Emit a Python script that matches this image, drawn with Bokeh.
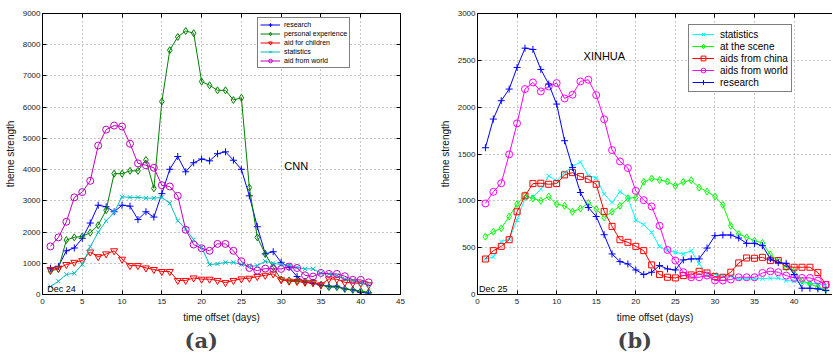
from bokeh.plotting import figure
from bokeh.layouts import row
from bokeh.models import LinearAxis, Title, Label, FixedTicker, CustomJSTickFormatter, Range1d
from bokeh.embed import file_html
from bokeh.resources import INLINE

# ---------------- data ----------------
cnn_days = list(range(1, 42))
cnn_research = [840, 900, 1400, 1490, 1800, 2290, 2860, 2810, 2650, 2860, 2830, 2400, 2650, 2480, 3230,
                4010, 4420, 3930, 4220, 4340, 4280, 4510, 4570, 4300, 4010, 3160, 2170, 1300, 1370, 1030,
                870, 575, 390, 360, 300, 265, 265, 180, 150, 65, 50]
cnn_personal = [750, 820, 1745, 1830, 1860, 1980, 2220, 2700, 3870, 3870, 3960, 3960, 4310, 3400, 6180,
                7825, 8250, 8440, 8370, 6820, 6700, 6540, 6540, 6230, 6300, 3425, 1830, 1300, 870, 480,
                450, 450, 415, 390, 310, 235, 235, 180, 150, 110, 75]
cnn_children = [800, 840, 960, 1030, 1085, 1360, 1210, 1300, 1400, 1130, 925, 925, 850, 800, 735,
                735, 450, 450, 530, 490, 490, 450, 380, 450, 500, 520, 575, 615, 660, 470,
                425, 415, 390, 380, 310, 500, 490, 390, 370, 360, 310]
cnn_statistics = [255, 425, 640, 680, 960, 1530, 1990, 2360, 2630, 3130, 3110, 3110, 3085, 3085, 3110,
                  2925, 2360, 2100, 1755, 1510, 960, 980, 1030, 1030, 960, 900, 925, 1065, 1000, 960,
                  925, 870, 820, 820, 680, 660, 605, 500, 450, 360, 310]
cnn_world = [1540, 1830, 2330, 3110, 3280, 3640, 4770, 5280, 5410, 5380, 4830, 4200, 4140, 4060, 3500,
             3460, 3160, 2075, 1600, 1480, 1400, 1620, 1620, 1400, 1065, 850, 765, 830, 820, 820,
             895, 850, 615, 575, 690, 660, 660, 585, 470, 470, 390]

xh_days = list(range(1, 45))
xh_statistics = [380, 400, 564, 592, 794, 1028, 1043, 1124, 1266, 1213, 1301, 1368, 1414, 1270, 1245,
                 1071, 982, 1099, 1035, 794, 745, 663, 511, 468, 450, 433, 468, 326, 220, 220,
                 195, 195, 167, 167, 167, 170, 174, 174, 149, 142, 124, 121, 113, 96]
xh_scene = [617, 670, 706, 833, 965, 1060, 1025, 1000, 1046, 965, 947, 883, 918, 975, 911,
            823, 883, 947, 1028, 1035, 1202, 1238, 1223, 1206, 1160, 1202, 1220, 1142, 1099, 1046,
            957, 734, 645, 610, 574, 550, 426, 362, 291, 255, 149, 113, 78, 53]
xh_china = [379, 468, 514, 585, 883, 1053, 1184, 1188, 1177, 1184, 1277, 1301, 1259, 1230, 1177,
            887, 727, 585, 557, 514, 468, 316, 213, 184, 177, 202, 209, 248, 230, 191,
            184, 238, 337, 390, 387, 397, 362, 362, 298, 291, 291, 291, 234, 106]
xh_world = [972, 1096, 1188, 1496, 1827, 2193, 2264, 2168, 2221, 2257, 2093, 2133, 2275, 2293, 2129,
            1870, 1542, 1421, 1350, 1106, 1007, 940, 734, 475, 362, 238, 184, 184, 202, 149,
            149, 160, 184, 184, 184, 230, 248, 238, 202, 177, 177, 177, 149, 103]
xh_research = [1567, 1873, 2069, 2193, 2424, 2630, 2616, 2403, 2246, 2033, 1642, 1357, 1089, 929, 833,
               638, 433, 351, 326, 262, 213, 238, 309, 273, 262, 369, 380, 380, 496, 628,
               635, 635, 603, 546, 546, 521, 380, 340, 333, 213, 67, 67, 60, 43]

x_ticks = [0, 5, 10, 15, 20, 25, 30, 35, 40, 45]
cnn_y_ticks = [0, 1000, 2000, 3000, 4000, 5000, 6000, 7000, 8000, 9000]
xh_y_ticks = [0, 500, 1000, 1500, 2000, 2500, 3000]

SANS = "Liberation Sans"


def style(p, xt, yt, box=True):
    p.xaxis.ticker = FixedTicker(ticks=xt)
    p.yaxis.ticker = FixedTicker(ticks=yt)
    p.xaxis.axis_label = "time offset (days)"
    p.yaxis.axis_label = "theme strength"
    for ax in p.axis:
        ax.major_tick_in = 4
        ax.major_tick_out = 0
        ax.minor_tick_line_color = None
        ax.axis_line_color = "black"
        ax.major_tick_line_color = "black"
        ax.major_label_text_font = SANS
        ax.major_label_text_font_size = "8px"
        ax.major_label_text_color = "#222222"
        ax.axis_label_text_font = SANS
        ax.axis_label_text_font_size = "10px"
        ax.axis_label_text_font_style = "normal"
        ax.axis_label_text_color = "#111111"
    p.xaxis.major_label_standoff = 4
    p.xaxis.axis_label_standoff = 5
    p.yaxis.major_label_standoff = 2
    p.yaxis.axis_label_standoff = 4
    p.grid.grid_line_color = "#8a8a8a"
    p.grid.grid_line_dash = "1 3"
    p.grid.grid_line_width = 1
    p.outline_line_color = "black" if box else None
    p.outline_line_width = 1
    p.background_fill_color = "white"
    p.border_fill_color = "white"
    blank = CustomJSTickFormatter(code="return ''")
    top = LinearAxis(ticker=FixedTicker(ticks=xt), formatter=blank, major_tick_in=4, major_tick_out=0,
                     minor_tick_line_color=None, major_label_text_font_size="0px",
                     major_label_standoff=0, axis_line_color="black")
    p.add_layout(top, "above")
    if box:
        right = LinearAxis(ticker=FixedTicker(ticks=yt), formatter=blank, major_tick_in=4, major_tick_out=0,
                           minor_tick_line_color=None, major_label_text_font_size="0px",
                           major_label_standoff=0, axis_line_color="black")
        p.add_layout(right, "right")


def series(p, x, y, name, color, marker, size=7):
    p.line(x, y, line_color=color, line_width=1, legend_label=name)
    p.scatter(x, y, marker=marker, size=size, line_color=color, fill_color=None, line_width=1,
              legend_label=name)


def legend_style(p, loc, fs, gh, lh, gw, pad, stand):
    lg = p.legend[0]
    lg.location = loc
    lg.border_line_color = "black"
    lg.border_line_width = 1
    lg.background_fill_color = "white"
    lg.background_fill_alpha = 1
    lg.label_text_font = SANS
    lg.label_text_font_size = fs
    lg.label_text_color = "black"
    lg.glyph_width = gw
    lg.glyph_height = gh
    lg.label_height = lh
    lg.spacing = 0
    lg.padding = pad
    lg.margin = 0
    lg.label_standoff = stand


# ---------------- (a) CNN ----------------
p1 = figure(width=418, height=356, output_backend="svg", toolbar_location=None,
            x_range=Range1d(0, 45), y_range=Range1d(0, 9000),
            min_border_left=42, min_border_right=18, min_border_top=13, min_border_bottom=62)
style(p1, x_ticks, cnn_y_ticks, box=True)
series(p1, cnn_days, cnn_research, "research", "#0000FF", "cross")
series(p1, cnn_days, cnn_personal, "personal experience", "#008000", "diamond")
series(p1, cnn_days, cnn_children, "aid for children", "#FF0000", "inverted_triangle")
series(p1, cnn_days, cnn_statistics, "statistics", "#00BFBF", "x", 6)
series(p1, cnn_days, cnn_world, "aid from world", "#BF00BF", "circle")
legend_style(p1, (215, 226), "7px", 9, 9, 20, 2, 4)
p1.add_layout(Label(x=30.4, y=4100, text="CNN", text_font=SANS, text_font_size="11px",
                    text_baseline="middle", text_color="black"))
p1.add_layout(Label(x=0.6, y=20, text="Dec 24", text_font=SANS, text_font_size="9px",
                    text_baseline="bottom", text_color="black"))
p1.add_layout(Title(text="(a)", align="left", offset=142, text_font="DejaVu Serif",
                    text_font_size="21px", text_font_style="bold", standoff=0), "below")

# ---------------- (b) XINHUA ----------------
p2 = figure(width=414, height=356, output_backend="svg", toolbar_location=None,
            x_range=Range1d(0, 44.85), y_range=Range1d(0, 3000),
            min_border_left=59, min_border_right=0, min_border_top=13, min_border_bottom=62)
style(p2, x_ticks, xh_y_ticks, box=False)
series(p2, xh_days, xh_statistics, "statistics", "#00FFFF", "x", 6)
series(p2, xh_days, xh_scene, "at the scene", "#00FF00", "diamond")
series(p2, xh_days, xh_china, "aids from china", "#FF0000", "square", 6)
series(p2, xh_days, xh_world, "aids from world", "#FF00FF", "circle")
series(p2, xh_days, xh_research, "research", "#0000FF", "cross")
legend_style(p2, (211, 202), "10px", 12, 12, 22, 3, 6)
p2.add_layout(Label(x=13.4, y=2550, text="XINHUA", text_font=SANS, text_font_size="11px",
                    text_baseline="middle", text_color="black"))
p2.add_layout(Label(x=0.2, y=10, text="Dec 25", text_font=SANS, text_font_size="9px",
                    text_baseline="bottom", text_color="black"))
p2.add_layout(Title(text="(b)", align="left", offset=140, text_font="DejaVu Serif",
                    text_font_size="21px", text_font_style="bold", standoff=0), "below")

layout = row(p1, p2)
open("out.html", "w").write(file_html(layout, INLINE))
